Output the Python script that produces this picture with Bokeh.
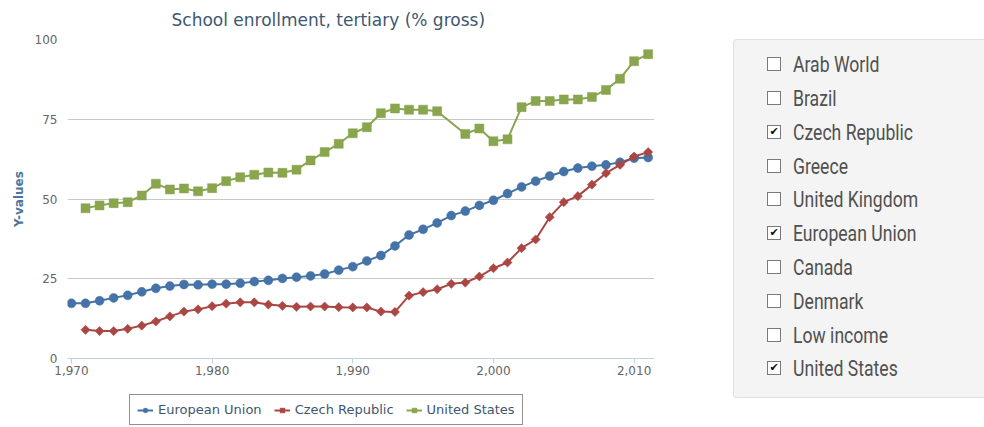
import math
from bokeh.plotting import figure
from bokeh.models import Range1d, FixedTicker, NumeralTickFormatter, Legend, LegendItem, Div
from bokeh.layouts import row, column
from bokeh.embed import file_html
from bokeh.resources import INLINE

TITLE = "School enrollment, tertiary (% gross)"
Y_LABEL = "Y-values"
x_ticks = [1970, 1980, 1990, 2000, 2010]
y_ticks = [0, 25, 50, 75, 100]

eu_name = "European Union"
eu_years = list(range(1970, 2012))
eu_values = [17.3, 17.3, 18.1, 19.0, 19.8, 20.9, 22.0, 22.7, 23.2, 23.1,
             23.3, 23.3, 23.6, 24.1, 24.5, 25.1, 25.5, 25.9, 26.5, 27.7,
             28.8, 30.6, 32.3, 35.3, 38.7, 40.5, 42.5, 44.8, 46.2, 48.0,
             49.6, 51.7, 53.8, 55.6, 57.2, 58.6, 59.7, 60.3, 60.7, 61.5,
             62.8, 63.0]

cz_name = "Czech Republic"
cz_years = list(range(1971, 2012))
cz_values = [9.0, 8.6, 8.6, 9.3, 10.3, 11.6, 13.2, 14.7, 15.4,
             16.4, 17.2, 17.6, 17.6, 16.9, 16.5, 16.2, 16.3, 16.3, 16.1,
             16.0, 16.0, 14.7, 14.6, 19.7, 20.8, 21.7, 23.4, 23.8, 25.7,
             28.3, 30.1, 34.6, 37.3, 44.3, 49.0, 50.9, 54.5, 58.1, 60.7,
             63.3, 64.7]

us_name = "United States"
us_years = list(range(1971, 1997)) + list(range(1998, 2012))
us_values = [47.1, 48.0, 48.7, 49.0, 51.1, 54.8, 53.0, 53.3, 52.4,
             53.4, 55.6, 56.8, 57.6, 58.3, 58.2, 59.2, 62.1, 64.7, 67.3,
             70.6, 72.5, 76.9, 78.4, 78.0, 78.0, 77.5,
             70.4, 72.1,
             68.1, 68.7, 78.8, 80.7, 80.7, 81.2, 81.2, 82.0, 84.2, 87.7,
             93.2, 95.4]

panel_items = ["Arab World", "Brazil", "Czech Republic", "Greece", "United Kingdom",
               "European Union", "Canada", "Denmark", "Low income", "United States"]
panel_checked = [False, False, True, False, False, True, False, False, False, True]

FONT = "DejaVu Sans"

p = figure(width=660, height=388, output_backend="svg", toolbar_location=None,
           x_range=Range1d(1969.72, 2011.45), y_range=Range1d(0, 100),
           min_border_left=59, min_border_right=14, min_border_top=42, min_border_bottom=27,
           margin=(-3, 0, 0, 8))
p.outline_line_color = None
p.background_fill_color = "white"
p.border_fill_color = "white"

p.title.text = TITLE
p.title.align = "left"
p.title.offset = 104
p.title.text_font = FONT
p.title.text_font_size = "17px"
p.title.text_font_style = "normal"
p.title.text_color = "#3E576F"
p.title.standoff = 19

p.xgrid.grid_line_color = None
p.ygrid.grid_line_color = "#C8C8C8"
p.ygrid.ticker = FixedTicker(ticks=y_ticks)

p.xaxis.ticker = FixedTicker(ticks=x_ticks)
p.xaxis.formatter = NumeralTickFormatter(format="0,0")
p.xaxis.axis_line_color = "#C0D0E0"
p.xaxis.major_tick_line_color = "#C0D0E0"
p.xaxis.major_tick_out = 5
p.xaxis.major_tick_in = 0
p.xaxis.minor_tick_line_color = None
p.xaxis.major_label_standoff = 2
p.xaxis.major_label_text_font = FONT
p.xaxis.major_label_text_font_size = "12px"
p.xaxis.major_label_text_color = "#666666"

p.yaxis.ticker = FixedTicker(ticks=y_ticks)
p.yaxis.axis_line_color = None
p.yaxis.major_tick_line_color = None
p.yaxis.minor_tick_line_color = None
p.yaxis.major_tick_out = 0
p.yaxis.major_tick_in = 0
p.yaxis.major_label_standoff = 10
p.yaxis.major_label_text_font = FONT
p.yaxis.major_label_text_font_size = "12px"
p.yaxis.major_label_text_color = "#666666"
p.yaxis.axis_label = Y_LABEL
p.yaxis.axis_label_text_font = FONT
p.yaxis.axis_label_text_font_size = "12px"
p.yaxis.axis_label_text_font_style = "bold"
p.yaxis.axis_label_text_color = "#4D759E"
p.yaxis.axis_label_standoff = 6

# small strip below the chart that carries the legend (its glyphs fall outside its frame)
lg = figure(width=660, height=42, output_backend="svg", toolbar_location=None,
            x_range=Range1d(0, 1), y_range=Range1d(0, 1),
            x_axis_type=None, y_axis_type=None,
            min_border_left=0, min_border_right=0, min_border_top=0, min_border_bottom=0,
            margin=(0, 0, 0, 8))
lg.outline_line_color = None
lg.xgrid.visible = False
lg.ygrid.visible = False
lg.background_fill_color = "white"
lg.border_fill_color = "white"

series = [
    (eu_name, eu_years, eu_values, "#4572A7", "circle", 9, 0.0),
    (cz_name, cz_years, cz_values, "#AA4643", "square", 6.5, math.pi / 4),
    (us_name, us_years, us_values, "#89A54E", "square", 9, 0.0),
]
items = []
for name, xs, ys, col, mk, sz, ang in series:
    p.line(xs, ys, line_color=col, line_width=2)
    p.scatter(xs, ys, marker=mk, size=sz, angle=ang, fill_color=col, line_color=col, line_width=0.5)
    ln = lg.line(xs, ys, line_color=col, line_width=2)
    sc = lg.scatter(xs, ys, marker=mk, size=sz, angle=ang, fill_color=col, line_color=col, line_width=0.5)
    items.append(LegendItem(label=name, renderers=[ln, sc]))

legend = Legend(items=items, orientation="horizontal", location=(62, 2))
legend.border_line_color = "#909090"
legend.border_line_width = 1
legend.border_line_alpha = 1.0
legend.background_fill_color = "white"
legend.background_fill_alpha = 1.0
legend.label_text_font = FONT
legend.label_text_font_size = "13px"
legend.label_text_color = "#3E576F"
legend.glyph_width = 16
legend.glyph_height = 12
legend.label_height = 14
legend.label_standoff = 5
legend.spacing = 12
legend.padding = 7
legend.margin = 0
lg.add_layout(legend)

rows_html = ""
for name, chk in zip(panel_items, panel_checked):
    mark = "&#10004;" if chk else ""
    box = ('<span style="display:inline-block;box-sizing:border-box;width:14px;height:14px;'
           'border:1px solid #7a7a7a;background:#fff;vertical-align:middle;margin-right:12px;'
           'font-family:\'DejaVu Sans\';font-size:11px;line-height:12px;text-align:center;color:#111;'
           'position:relative;top:-1px">' + mark + '</span>')
    label = ('<span style="display:inline-block;vertical-align:middle;transform:scaleX(0.8);'
             'transform-origin:left center">' + name + '</span>')
    rows_html += ('<div style="height:33.8px;line-height:33.8px;white-space:nowrap">'
                  + box + label + '</div>')

panel_html = ('<div style="box-sizing:border-box;width:251px;height:359px;background:#f4f4f4;'
              'border:1px solid #e0e0e0;border-right:none;border-radius:4px 0 0 4px;'
              'padding:7px 0 0 33px;font-family:Roboto;font-size:22px;color:#505050;">'
              + rows_html + '</div>')
panel = Div(text=panel_html, width=251, height=359, margin=(39, 0, 0, 65))

layout = row(column(p, lg), panel)
open("out.html", "w").write(file_html(layout, INLINE))
